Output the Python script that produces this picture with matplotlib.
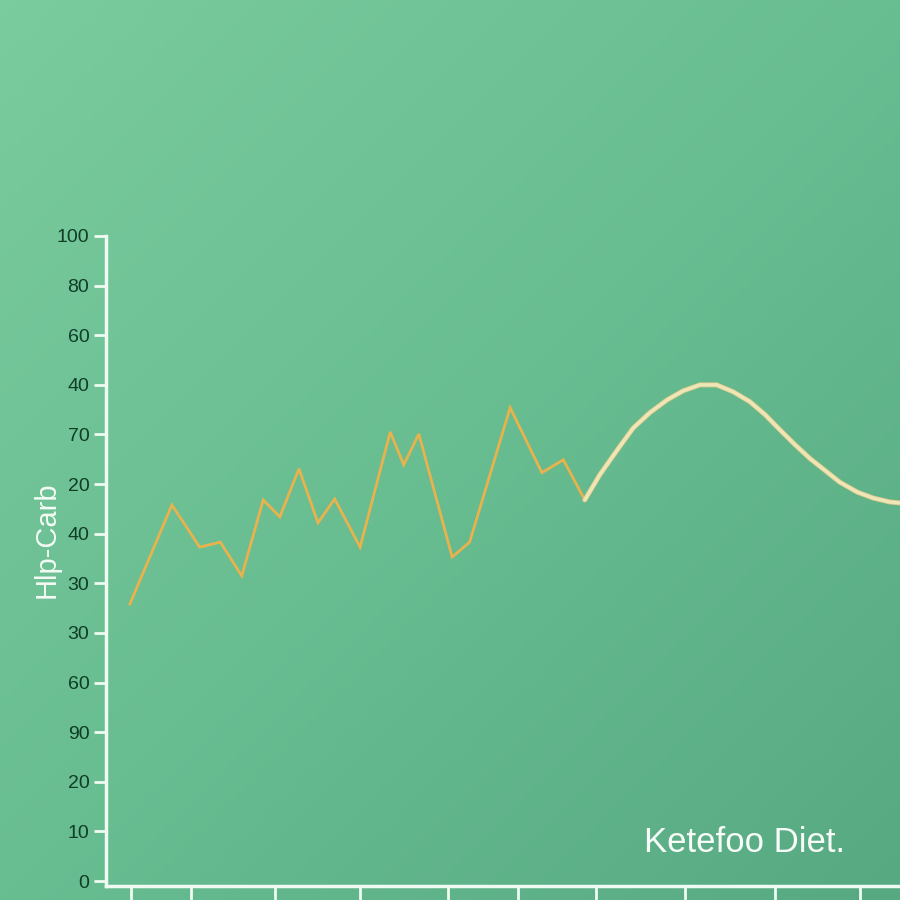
import numpy as np
import matplotlib
matplotlib.use("Agg")
import matplotlib.pyplot as plt
from matplotlib.colors import LinearSegmentedColormap

plt.rcParams['font.family'] = ['Liberation Sans', 'DejaVu Sans']

# ---- data ----
ytick_labels = ["0", "10", "20", "90", "60", "30", "30", "40", "20", "70", "40", "60", "80", "100"]
xtick_pos = [3.1, 10.7, 21.3, 32.0, 43.1, 51.9, 61.7, 72.9, 84.3, 95.0]

zig_x = [3.0, 8.3, 11.8, 14.4, 17.1, 19.8, 21.9, 24.3, 26.7, 28.8, 32.0, 35.8, 37.5, 39.4,
         43.6, 45.8, 50.9, 54.9, 57.6, 60.3]
zig_y = [5.58, 7.58, 6.73, 6.83, 6.15, 7.68, 7.34, 8.31, 7.22, 7.70, 6.73, 9.05, 8.39, 9.01,
         6.53, 6.83, 9.54, 8.23, 8.49, 7.68]

curve_x = [60.3, 62.2, 64.4, 66.4, 68.5, 70.7, 72.7, 74.8, 76.9, 79.0, 81.1, 83.0, 84.9,
           86.8, 88.7, 90.6, 92.4, 94.6, 96.6, 98.7, 100.0]
curve_y = [7.68, 8.19, 8.69, 9.13, 9.44, 9.70, 9.88, 10.0, 10.0, 9.86, 9.66, 9.40, 9.09,
           8.79, 8.51, 8.27, 8.04, 7.84, 7.72, 7.64, 7.62]

fig = plt.figure(figsize=(9, 9), dpi=100)

# background gradient
bg = fig.add_axes([0, 0, 1, 1], zorder=0)
gx, gy = np.meshgrid(np.linspace(0, 1, 200), np.linspace(0, 1, 200))
g = (gx * 0.5 + gy * 0.5)
cmap = LinearSegmentedColormap.from_list("bg", ["#7acb9d", "#68bd91", "#57a982"])
bg.imshow(g, cmap=cmap, aspect='auto', extent=[0, 1, 0, 1], origin='upper')
bg.axis('off')

ax = fig.add_axes([106/900, 14/900, 794/900, (886-236)/900], zorder=1)
ax.patch.set_alpha(0)
ax.set_xlim(0, 100)
ax.set_ylim(-0.1, 13)

ax.plot(zig_x, zig_y, color="#e8b24c", lw=2.0, solid_joinstyle='miter', zorder=3)
ax.plot(curve_x, curve_y, color="#d9c98a", lw=3.6, solid_joinstyle='round',
        solid_capstyle='round', zorder=3)
ax.plot(curve_x, curve_y, color="#efe6b8", lw=2.4, solid_joinstyle='round',
        solid_capstyle='round', zorder=4)

for s in ['top', 'right']:
    ax.spines[s].set_visible(False)
for s in ['left', 'bottom']:
    ax.spines[s].set_color("#eefaf2")
    ax.spines[s].set_linewidth(2.5)

ax.set_yticks(range(14))
ax.set_yticklabels(ytick_labels)
ax.set_xticks(xtick_pos)
ax.set_xticklabels([])
ax.tick_params(axis='y', colors="#eefaf2", length=9, width=2, labelcolor="#0f3d26",
               labelsize=14, pad=3)
ax.tick_params(axis='x', colors="#eefaf2", length=11, width=2, direction='out')

fig.text(47/900, 1 - 540/900, "Hlp-Carb", rotation=90, color="#f4fbf5",
         fontsize=21, ha='center', va='center')
fig.text(745/900, 1 - 842/900, "Ketefoo Diet.", color="#f7fcf8",
         fontsize=25, ha='center', va='center')

fig.savefig("out.png", dpi=100)
